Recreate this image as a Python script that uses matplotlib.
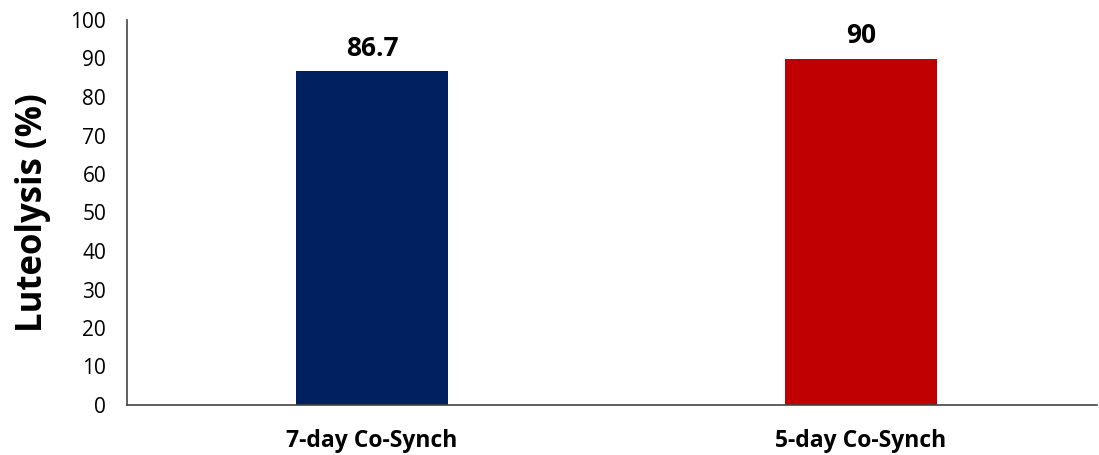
import matplotlib.pyplot as plt
import numpy as np

plt.rcParams['font.family'] = ['Open Sans', 'DejaVu Sans']

groups = ['7-day Co-Synch', '5-day Co-Synch']
luteolysis = [86.7, 90]
labels = ['86.7', '90']
colors = ['#002060', '#C00000']

fig = plt.figure(figsize=(10.99, 4.55), dpi=100)
ax = fig.add_axes([127 / 1099, 1 - 405 / 455, 970 / 1099, 385 / 455])

x = np.arange(len(groups))
bars = ax.bar(x, luteolysis, width=0.31, color=colors)
for b, lab in zip(bars, labels):
    ax.text(b.get_x() + b.get_width() / 2, b.get_height() + 2.5, lab,
            ha='center', va='bottom', fontsize=19, fontweight='bold')

ax.set_xlim(-0.501, 1.483)
ax.set_ylim(0, 100)
ax.set_yticks(np.arange(0, 101, 10))
ax.set_xticks(x)
ax.tick_params(axis='both', length=0)
ax.tick_params(axis='x', pad=17)
ax.tick_params(axis='y', pad=15, labelsize=15)
ax.set_xticklabels(groups, fontsize=16.5, fontweight='bold')
ax.set_ylabel('Luteolysis (%)', fontsize=25, fontweight='bold', labelpad=14)
for s in ['top', 'right']:
    ax.spines[s].set_visible(False)
for s in ['left', 'bottom']:
    ax.spines[s].set_color('#444444')
    ax.spines[s].set_linewidth(1.2)

fig.savefig('out.png', dpi=100)
